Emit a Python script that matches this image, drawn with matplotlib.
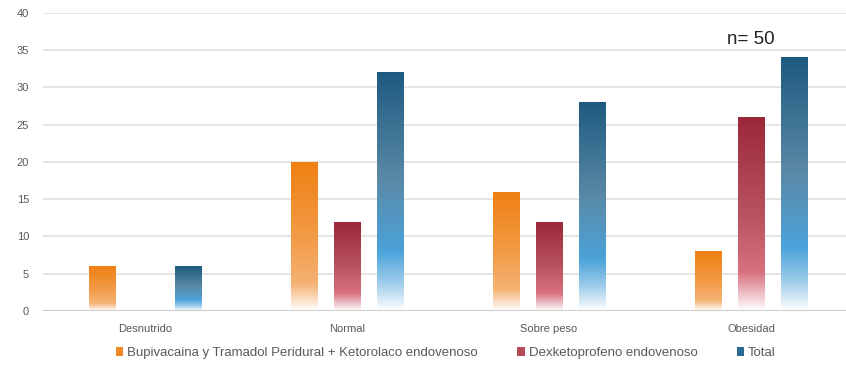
import matplotlib.pyplot as plt
import numpy as np
from matplotlib.colors import LinearSegmentedColormap
from matplotlib.patches import Patch

plt.rcParams['font.family'] = ['Liberation Sans', 'DejaVu Sans']

categorias = ['Desnutrido', 'Normal', 'Sobre peso', 'Obesidad']
series = ['Bupivacaina y Tramadol Peridural + Ketorolaco endovenoso',
          'Dexketoprofeno endovenoso', 'Total']
bupivacaina = [6, 20, 16, 8]
dexketoprofeno = [0, 12, 12, 26]
total = [6, 32, 28, 34]
valores = [bupivacaina, dexketoprofeno, total]

# degradado de arriba (oscuro) hacia abajo (blanco) para cada serie
degradados = [
    [(0.0, '#EF8012'), (0.5, '#F29A45'), (0.82, '#F5B274'), (1.0, '#FFFFFF')],
    [(0.0, '#9A2838'), (0.5, '#B9525F'), (0.8, '#D8707F'), (1.0, '#FFFFFF')],
    [(0.0, '#1E5A80'), (0.45, '#5A89A6'), (0.75, '#4BA3DA'), (0.88, '#9CCBEA'), (1.0, '#FFFFFF')],
]
colores_leyenda = ['#F08A25', '#B84A5A', '#2A6A92']

fig = plt.figure(figsize=(8.46, 3.66), dpi=100)
ax = fig.add_axes([43 / 846, 55 / 366, 1 - 43 / 846, 298.3 / 366])

x = np.arange(len(categorias))
ancho = 0.13
sep = 0.213

for i, (vals, grad) in enumerate(zip(valores, degradados)):
    cmap = LinearSegmentedColormap.from_list('g%d' % i, grad)
    pos = x + (i - 1) * sep
    barras = ax.bar(pos, vals, width=ancho, color='none', edgecolor='none', zorder=3)
    for b in barras:
        h = b.get_height()
        if h <= 0:
            continue
        x0 = b.get_x()
        grad_img = np.linspace(0, 1, 256).reshape(-1, 1)
        im = ax.imshow(grad_img, cmap=cmap, aspect='auto', zorder=3,
                       extent=[x0, x0 + ancho, 0, h], interpolation='bicubic')
        im.set_clip_path(b)

ax.set_xlim(-0.505, 3.47)
ax.set_ylim(0, 40)
ax.set_yticks(range(0, 41, 5))
ax.set_xticks(x)
ax.set_xticklabels(categorias)
ax.grid(axis='y', color='#E0E0E0', linewidth=1.2, zorder=0)
ax.axhline(0, color='#C8C8C8', linewidth=1.3, zorder=4)
for s in ax.spines.values():
    s.set_visible(False)
ax.tick_params(length=0, labelsize=8, colors='#595959')
ax.tick_params(axis='y', pad=10)
ax.tick_params(axis='x', pad=9)

ax.text(3.0, 36.4, 'n= 50', fontsize=13.5, ha='center', va='center', color='#222222')

handles = [Patch(facecolor=c, edgecolor='none') for c in colores_leyenda]
fig.legend(handles, series, loc='center', bbox_to_anchor=(0.527, 0.035), ncol=3,
           frameon=False, fontsize=9.5, handlelength=0.55, handleheight=0.7,
           handletextpad=0.3, columnspacing=3.0, labelcolor='#595959')

fig.savefig('out.png', dpi=100)
